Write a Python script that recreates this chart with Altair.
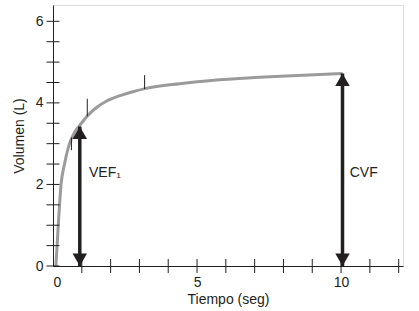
import altair as alt
import pandas as pd

# Curve (time in s, volume in L)
curve_t = [0.1, 0.15, 0.2, 0.28, 0.4, 0.55, 0.75, 0.93, 1.22, 1.5, 1.85, 2.3, 2.8, 3.2, 4.4, 5.5, 7.0, 8.5, 10.05]
curve_v = [0.0, 0.6, 1.2, 2.0, 2.5, 2.95, 3.28, 3.45, 3.7, 3.88, 4.04, 4.17, 4.28, 4.35, 4.47, 4.55, 4.62, 4.67, 4.72]

# small marks on the curve
mark_t = [0.64, 1.19, 3.18]
mark_lo = [2.84, 3.67, 4.34]
mark_hi = [3.15, 4.10, 4.68]

# double arrows
arrow_x = [0.93, 10.05]
arrow_top = [3.42, 4.72]
arrow_text = ["VEF\u2081", "CVF"]
text_x = [1.25, 10.3]
text_y = [2.27, 2.27]

# axis ticks
xtick_vals = list(range(1, 13))
ytick_vals = [i * 0.5 for i in range(0, 13)]
xlabel_vals = [0, 5, 10]
ylabel_vals = [0, 2, 4, 6]

INK = "#231f20"
FONT = "Liberation Sans"

curve_df = pd.DataFrame({"t": curve_t, "v": curve_v})
marks_df = pd.DataFrame({"t": mark_t, "lo": mark_lo, "hi": mark_hi})
arrow_df = pd.DataFrame({"x": arrow_x, "top": arrow_top, "bottom": [0.0] * len(arrow_x)})
text_df = pd.DataFrame({"x": text_x, "y": text_y, "label": arrow_text})
xt_df = pd.DataFrame({"x": xtick_vals, "y": [0.0] * len(xtick_vals)})
yt_df = pd.DataFrame({"x": [0.0] * len(ytick_vals), "y": ytick_vals})

xscale = alt.Scale(domain=[0, 12.15], nice=False, zero=False)
yscale = alt.Scale(domain=[0, 6.4], nice=False, zero=False)

xaxis = alt.Axis(values=xlabel_vals, title="Tiempo (seg)", ticks=False, grid=False,
                 domainColor=INK, domainWidth=1, labelFontSize=14, labelColor=INK,
                 labelPadding=9.5, titleFontSize=14, titleFontWeight="normal",
                 titleColor=INK, titlePadding=3, labelFont=FONT, titleFont=FONT)
yaxis = alt.Axis(values=ylabel_vals, title="Volumen (L)", ticks=False, grid=False,
                 domainColor=INK, domainWidth=1, labelFontSize=14, labelColor=INK,
                 labelPadding=10, titleFontSize=14, titleFontWeight="normal",
                 titleColor=INK, titlePadding=9, labelFont=FONT, titleFont=FONT)

curve = alt.Chart(curve_df).mark_line(color="#9b9b9b", strokeWidth=3, interpolate="monotone").encode(
    x=alt.X("t:Q", scale=xscale, axis=xaxis),
    y=alt.Y("v:Q", scale=yscale, axis=yaxis),
)

small = alt.Chart(marks_df).mark_rule(color=INK, strokeWidth=1).encode(
    x="t:Q", y="lo:Q", y2="hi:Q"
)

shaft = alt.Chart(arrow_df).mark_rule(color=INK, strokeWidth=3.5).encode(
    x="x:Q", y="bottom:Q", y2="top:Q"
)

head_up = alt.Chart(arrow_df).mark_point(shape="triangle-up", filled=True, size=210,
                                         color=INK, opacity=1, yOffset=6.3).encode(
    x="x:Q", y="top:Q"
)
head_down = alt.Chart(arrow_df).mark_point(shape="triangle-down", filled=True, size=210,
                                           color=INK, opacity=1, yOffset=-6.3).encode(
    x="x:Q", y="bottom:Q"
)

labels = alt.Chart(text_df).mark_text(align="left", baseline="middle", fontSize=14,
                                      font=FONT, color=INK).encode(
    x="x:Q", y="y:Q", text="label:N"
)

xticks = alt.Chart(xt_df).mark_tick(orient="vertical", size=14, thickness=1, color=INK, opacity=1).encode(
    x="x:Q", y="y:Q"
)
yticks = alt.Chart(yt_df).mark_tick(orient="horizontal", size=13, thickness=1, color=INK, opacity=1).encode(
    x="x:Q", y="y:Q"
)

chart = alt.layer(curve, small, shaft, head_up, head_down, labels, xticks, yticks).properties(
    width=350, height=261,
    autosize=alt.AutoSizeParams(type="none"),
    padding={"left": 53, "top": 5, "right": 16, "bottom": 45},
).configure_view(stroke=None).configure(background="white")

chart.save("out.html", embed_options={"renderer": "svg", "actions": False})
